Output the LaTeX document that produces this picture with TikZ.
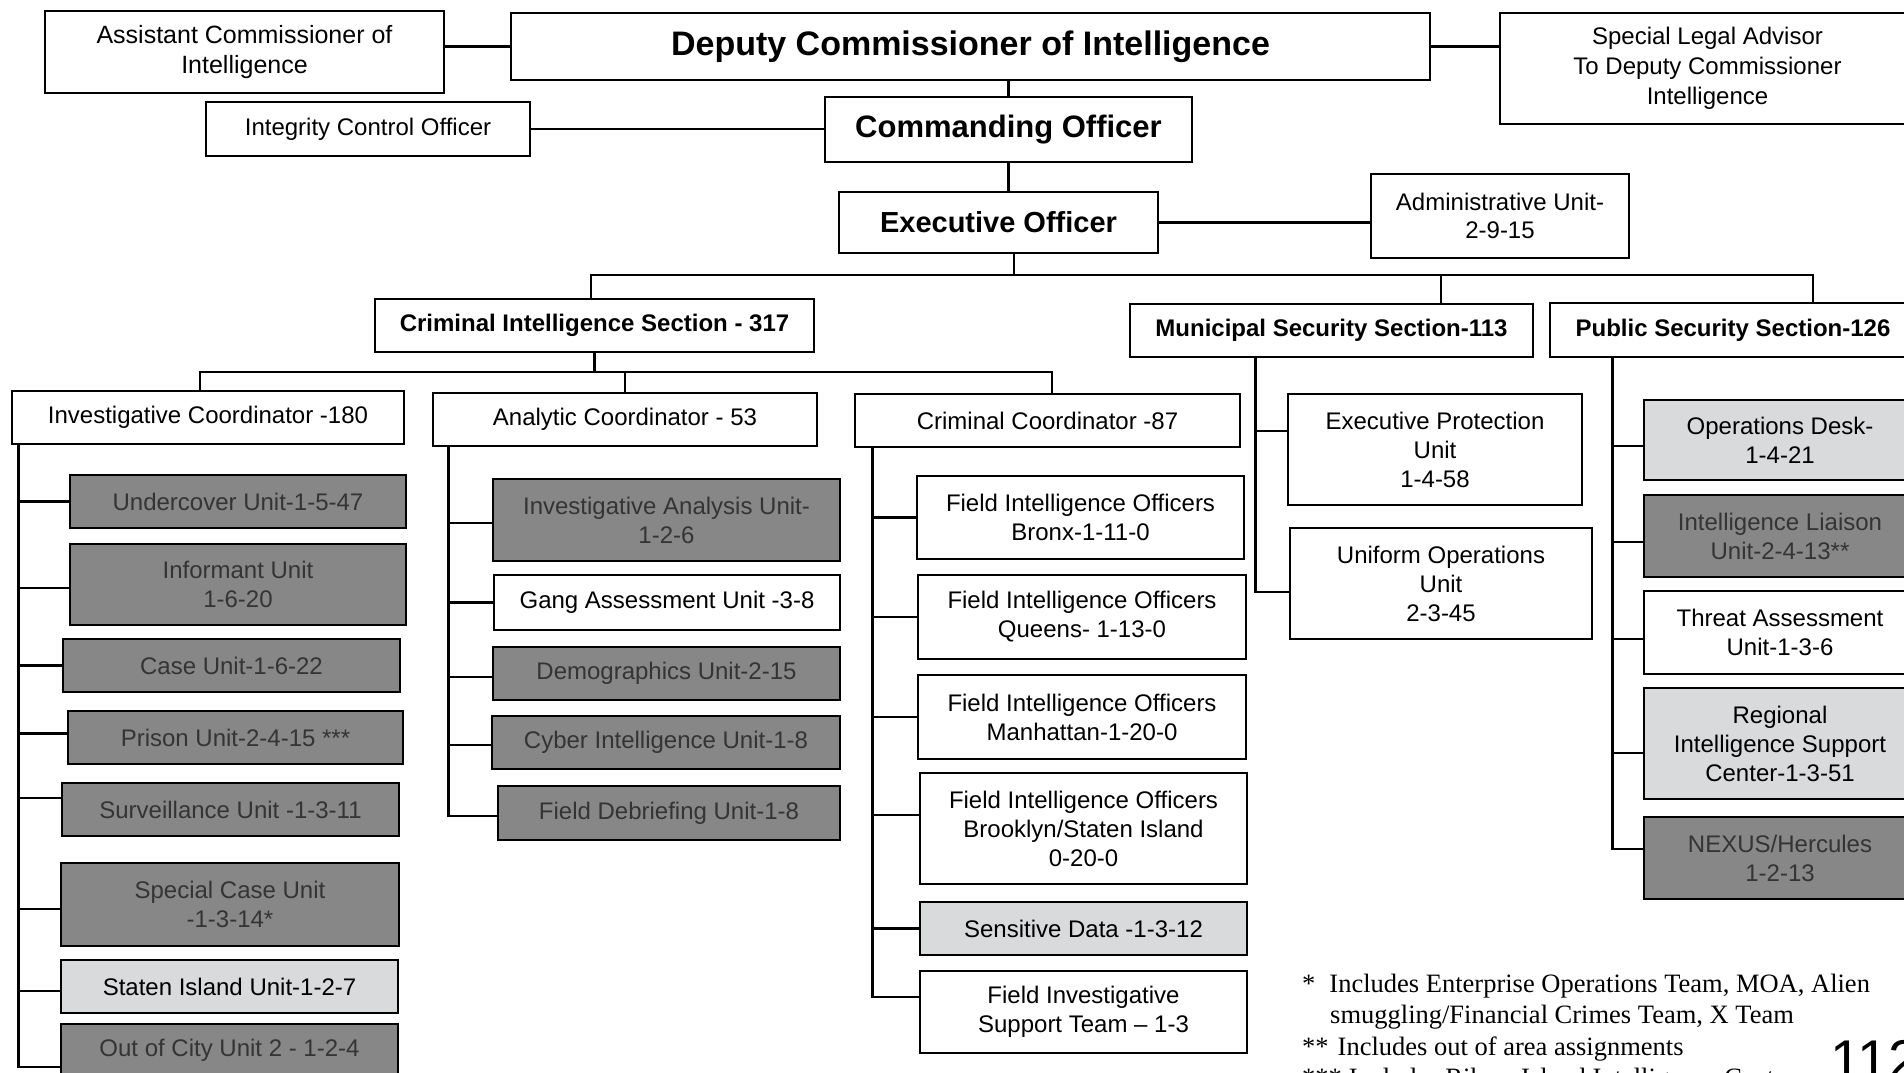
\documentclass[tikz,border=0pt]{standalone}
\usepackage{fontspec}
\setmainfont{Liberation Sans}
\newfontfamily\serifft{Liberation Serif}
\definecolor{darkbox}{RGB}{135,135,135}
\definecolor{lightbox}{RGB}{216,218,220}
\definecolor{darktext}{RGB}{52,52,52}
\tikzset{
  box/.style={draw, line width=2.6pt, inner sep=0pt, align=center, fill=white, text=black,
    font=\fontsize{24}{29}\selectfont},
  dk/.style={box, fill=darkbox, text=darktext},
  lt/.style={box, fill=lightbox},
  hd/.style={box, font=\bfseries\fontsize{24}{29}\selectfont},
  wire/.style={line width=2.6pt},
  fn/.style={anchor=base west, inner sep=0pt, font=\serifft\fontsize{26.5}{31}\selectfont}
}
\begin{document}
\begin{tikzpicture}[x=1pt,y=-1pt]
\useasboundingbox (0,0) rectangle (1904,1073);
\clip (0,0) rectangle (1904,1073);
\fill[white] (0,0) rectangle (1904,1073);

% top level
\node[box, minimum width=399, minimum height=82, font=\fontsize{25}{30}\selectfont] (asst) at (244.5,52) {Assistant Commissioner of\\Intelligence};
\node[box, minimum width=919, minimum height=67, font=\bfseries\fontsize{34}{40}\selectfont] (dep) at (970.5,46.5) {Deputy Commissioner of Intelligence};
\node[box, minimum width=415, minimum height=111, font=\fontsize{24}{30}\selectfont] (legal) at (1707.5,68.5) {Special Legal Advisor\\To Deputy Commissioner\\Intelligence};
\node[box, minimum width=324, minimum height=54] (integ) at (368,129) {Integrity Control Officer};
\node[box, minimum width=367, minimum height=65, font=\bfseries\fontsize{31}{36}\selectfont] (cmd) at (1008.5,129.5) {Commanding Officer};
\node[box, minimum width=319, minimum height=61, font=\bfseries\fontsize{29}{34}\selectfont] (exec) at (998.5,222.5) {Executive Officer};
\node[box, minimum width=258, minimum height=84, font=\fontsize{24}{28}\selectfont] (admin) at (1500,216) {Administrative Unit-\\2-9-15};

% sections
\node[hd, minimum width=439, minimum height=53] (cis) at (594.5,325.5) {Criminal Intelligence Section - 317};
\node[hd, minimum width=403, minimum height=53] (mun) at (1331.5,330.5) {Municipal Security Section-113};
\node[hd, minimum width=366, minimum height=54] (pub) at (1733,330) {Public Security Section-126};

% coordinators
\node[box, minimum width=392, minimum height=53] (ic) at (208,417.5) {Investigative Coordinator -180};
\node[box, minimum width=384, minimum height=53] (ac) at (625,419.5) {Analytic Coordinator - 53};
\node[box, minimum width=385, minimum height=53] (cc) at (1047.5,420.5) {Criminal Coordinator -87};

% investigative units
\node[dk, minimum width=336, minimum height=53] (uc) at (238,501.5) {Undercover Unit-1-5-47};
\node[dk, minimum width=336, minimum height=81] (inf) at (238,584.5) {Informant Unit\\1-6-20};
\node[dk, minimum width=337, minimum height=53] (case) at (231.5,665.5) {Case Unit-1-6-22};
\node[dk, minimum width=335, minimum height=53] (prison) at (235.5,737.5) {Prison Unit-2-4-15 ***};
\node[dk, minimum width=337, minimum height=53] (surv) at (230.5,809.5) {Surveillance Unit -1-3-11};
\node[dk, minimum width=338, minimum height=83] (spc) at (230,904.5) {Special Case Unit\\-1-3-14*};
\node[lt, minimum width=337, minimum height=53] (staten) at (229.5,986.5) {Staten Island Unit-1-2-7};
\node[dk, minimum width=337, minimum height=53] (ooc) at (229.5,1050.5) {Out of City Unit 2 - 1-2-4};

% analytic units
\node[dk, minimum width=347, minimum height=82] (iau) at (666.5,520) {Investigative Analysis Unit-\\1-2-6};
\node[box, minimum width=346, minimum height=55] (gang) at (667,602.5) {Gang Assessment Unit -3-8};
\node[dk, minimum width=347, minimum height=53] (demo) at (666.5,673.5) {Demographics Unit-2-15};
\node[dk, minimum width=348, minimum height=53] (cyber) at (666,742.5) {Cyber Intelligence Unit-1-8};
\node[dk, minimum width=342, minimum height=54] (fdu) at (669,813) {Field Debriefing Unit-1-8};

% criminal units
\node[box, minimum width=327, minimum height=83] (bronx) at (1080.5,517.5) {Field Intelligence Officers\\Bronx-1-11-0};
\node[box, minimum width=328, minimum height=84] (queens) at (1082,617) {Field Intelligence Officers\\Queens- 1-13-0};
\node[box, minimum width=328, minimum height=84] (manh) at (1082,717) {Field Intelligence Officers\\Manhattan-1-20-0};
\node[box, minimum width=327, minimum height=111] (brook) at (1083.5,828.5) {Field Intelligence Officers\\Brooklyn/Staten Island\\0-20-0};
\node[lt, minimum width=327, minimum height=53] (sens) at (1083.5,928.5) {Sensitive Data -1-3-12};
\node[box, minimum width=327, minimum height=82] (fist) at (1083.5,1012) {Field Investigative\\Support Team -- 1-3};

% municipal units
\node[box, minimum width=294, minimum height=111] (epu) at (1435,449.5) {Executive Protection\\Unit\\1-4-58};
\node[box, minimum width=302, minimum height=111] (uou) at (1441,583.5) {Uniform Operations\\Unit\\2-3-45};

% public units
\node[lt, minimum width=272, minimum height=80] (ops) at (1780,440) {Operations Desk-\\1-4-21};
\node[dk, minimum width=272, minimum height=82] (ilu) at (1780,536) {Intelligence Liaison\\Unit-2-4-13**};
\node[box, minimum width=272, minimum height=83] (threat) at (1780,632.5) {Threat Assessment\\Unit-1-3-6};
\node[lt, minimum width=272, minimum height=111] (risc) at (1780,743.5) {Regional\\Intelligence Support\\Center-1-3-51};
\node[dk, minimum width=272, minimum height=82] (nexus) at (1780,858) {NEXUS/Hercules\\1-2-13};

% top connectors
\draw[wire] (asst.east |- dep.west) -- (dep.west);
\draw[wire] (dep.east) -- (dep.east -| legal.west);
\draw[wire] (cmd.north) -- (cmd.north |- dep.south);
\draw[wire] (integ.east) -- (integ.east -| cmd.west);
\draw[wire] (cmd.south) -- (cmd.south |- exec.north);
\draw[wire] (exec.east) -- (exec.east -| admin.west);

% section bus
\coordinate (b1) at (1014,275);
\coordinate (exbot) at ([xshift=15.5]exec.south);
\coordinate (cistop) at ([xshift=-3.5]cis.north);
\coordinate (muntop) at ([xshift=109.5]mun.north);
\coordinate (pubtop) at ([xshift=80]pub.north);
\draw[wire] (exbot) -- (exbot |- b1);
\draw[wire] (cistop) |- (pubtop |- b1) -- (pubtop);
\draw[wire] (muntop) -- (muntop |- b1);

% coordinator bus
\coordinate (b2) at (595,372);
\coordinate (ictop) at ([xshift=-8]ic.north);
\coordinate (cctop) at ([xshift=4.5]cc.north);
\draw[wire] (cis.south) -- (cis.south |- b2);
\draw[wire] (ictop) |- (cctop |- b2) -- (cctop);
\draw[wire] (ac.north) -- (ac.north |- b2);

% investigative trunk
\coordinate (t1) at ([xshift=8]ic.south west);
\coordinate (ucc) at (uc.west);
\coordinate (infc) at ([yshift=-3.5]inf.west);
\coordinate (casec) at (case.west);
\coordinate (prisonc) at ([yshift=4]prison.west);
\coordinate (survc) at ([yshift=11.5]surv.west);
\coordinate (spcc) at ([yshift=-4.5]spc.west);
\coordinate (statenc) at ([yshift=-4.5]staten.west);
\coordinate (oocc) at ([yshift=-16.5]ooc.west);
\draw[wire] (t1) |- (oocc);
\foreach \c in {ucc,infc,casec,prisonc,survc,spcc,statenc}
  \draw[wire] (\c) -- (t1 |- \c);

% analytic trunk
\coordinate (t2) at ([xshift=17]ac.south west);
\coordinate (iauc) at ([yshift=-3]iau.west);
\coordinate (gangc) at (gang.west);
\coordinate (democ) at ([yshift=-3.5]demo.west);
\coordinate (cyberc) at ([yshift=-2.5]cyber.west);
\coordinate (fduc) at ([yshift=-3]fdu.west);
\draw[wire] (t2) |- (fduc);
\foreach \c in {iauc,gangc,democ,cyberc}
  \draw[wire] (\c) -- (t2 |- \c);

% criminal trunk
\coordinate (t3) at ([xshift=19]cc.south west);
\coordinate (bronxc) at (bronx.west);
\coordinate (queensc) at (queens.west);
\coordinate (manhc) at (manh.west);
\coordinate (brookc) at ([yshift=13.5]brook.west);
\coordinate (sensc) at (sens.west);
\coordinate (fistc) at ([yshift=15]fist.west);
\draw[wire] (t3) |- (fistc);
\foreach \c in {bronxc,queensc,manhc,brookc,sensc}
  \draw[wire] (\c) -- (t3 |- \c);

% municipal trunk
\coordinate (t4) at ([xshift=127]mun.south west);
\coordinate (epuc) at ([yshift=18.5]epu.west);
\coordinate (uouc) at ([yshift=-8.5]uou.west);
\draw[wire] (t4) |- (uouc);
\draw[wire] (epuc) -- (t4 |- epuc);

% public trunk
\coordinate (t5) at ([xshift=64]pub.south west);
\coordinate (opsc) at ([yshift=-6]ops.west);
\coordinate (iluc) at ([yshift=-6]ilu.west);
\coordinate (threatc) at ([yshift=-6.5]threat.west);
\coordinate (riscc) at ([yshift=-9.5]risc.west);
\coordinate (nexusc) at ([yshift=9]nexus.west);
\draw[wire] (t5) |- (nexusc);
\foreach \c in {opsc,iluc,threatc,riscc}
  \draw[wire] (\c) -- (t5 |- \c);

% footnotes
\node[fn] (f1) at (1302,992) {*\hskip 14pt Includes Enterprise Operations Team, MOA, Alien};
\node[fn] (f2) at (1330,1023) {smuggling/Financial Crimes Team, X Team};
\node[fn] (f3) at (1302,1055) {**\hskip 9pt Includes out of area assignments};
\node[fn] (f4) at (1302,1086) {***\hskip 7pt Includes Rikers Island Intelligence Center};
\node[anchor=base west, inner sep=0pt, font=\fontsize{56}{60}\selectfont] (pg) at (1830,1079) {112};
\end{tikzpicture}
\end{document}
